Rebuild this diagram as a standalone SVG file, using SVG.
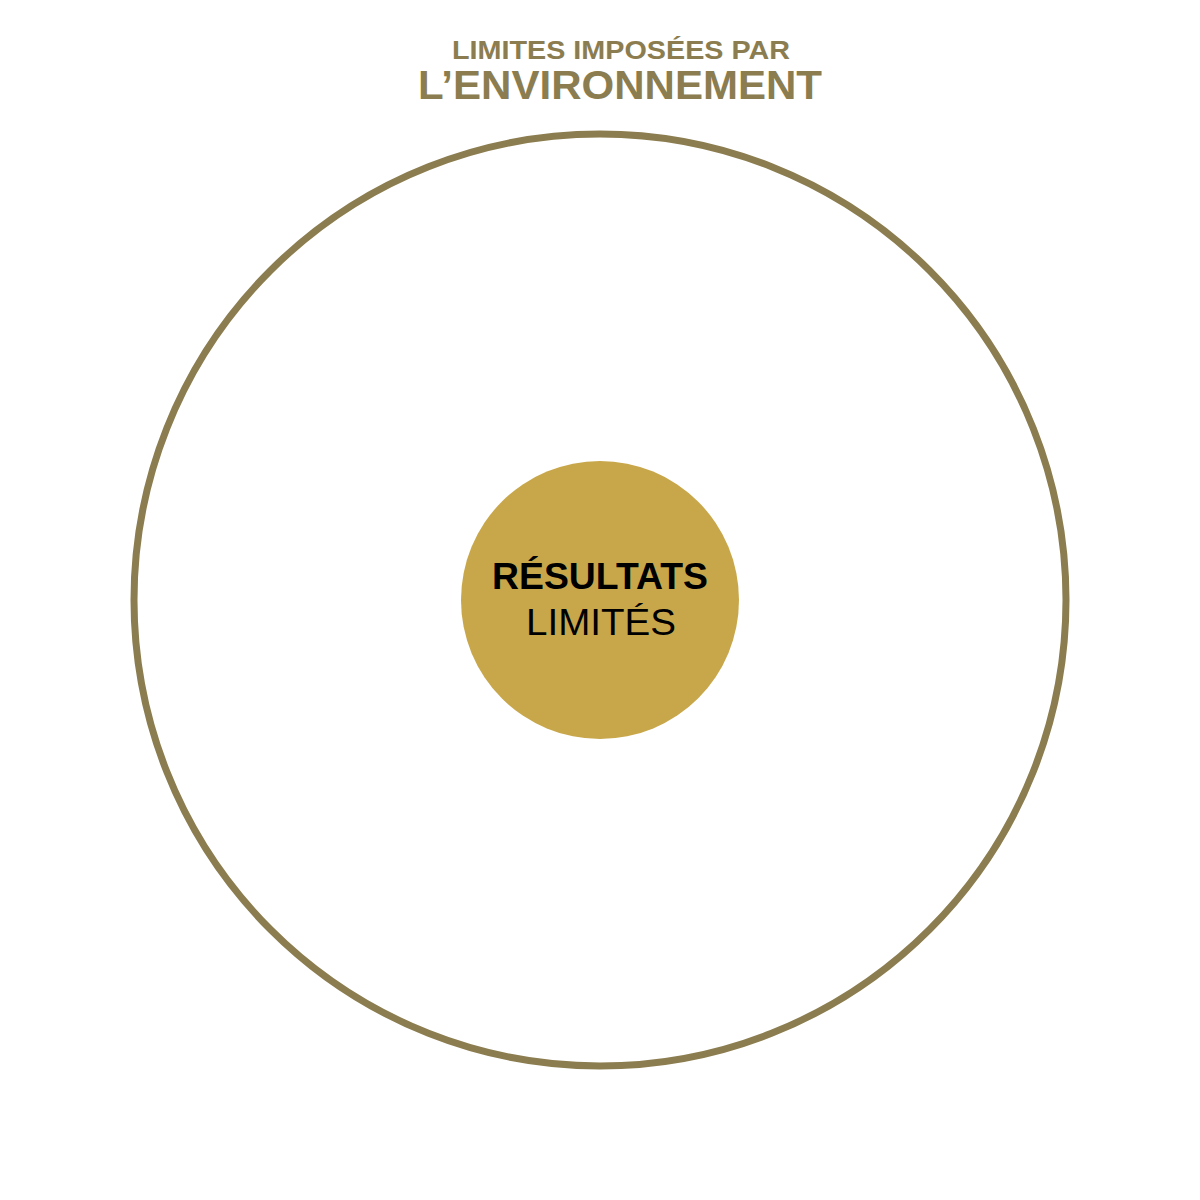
<svg xmlns="http://www.w3.org/2000/svg" width="1200" height="1200" viewBox="0 0 1200 1200">
<style>
.t{font-family:"Liberation Sans","DejaVu Sans",sans-serif;text-anchor:middle}
.title{fill:#8b7d4f;font-weight:bold}
.lbl{fill:#000}
</style>
<rect width="1200" height="1200" fill="#fff"/>
<g id="title">
<text class="t title" x="621" y="59" font-size="26" textLength="338" lengthAdjust="spacingAndGlyphs">LIMITES IMPOSÉES PAR</text>
<text class="t title" x="620" y="99" font-size="40" textLength="404" lengthAdjust="spacingAndGlyphs">L’ENVIRONNEMENT</text>
</g>
<g id="outer">
<circle cx="600" cy="600" r="466" fill="none" stroke="#8b7d4f" stroke-width="7"/>
</g>
<g id="center">
<circle cx="600" cy="600" r="139" fill="#c8a74b"/>
<text class="t lbl" x="600" y="589" font-size="36" font-weight="bold" textLength="216" lengthAdjust="spacingAndGlyphs">RÉSULTATS</text>
<text class="t lbl" x="601" y="635" font-size="36" textLength="150" lengthAdjust="spacingAndGlyphs">LIMITÉS</text>
</g>
</svg>
